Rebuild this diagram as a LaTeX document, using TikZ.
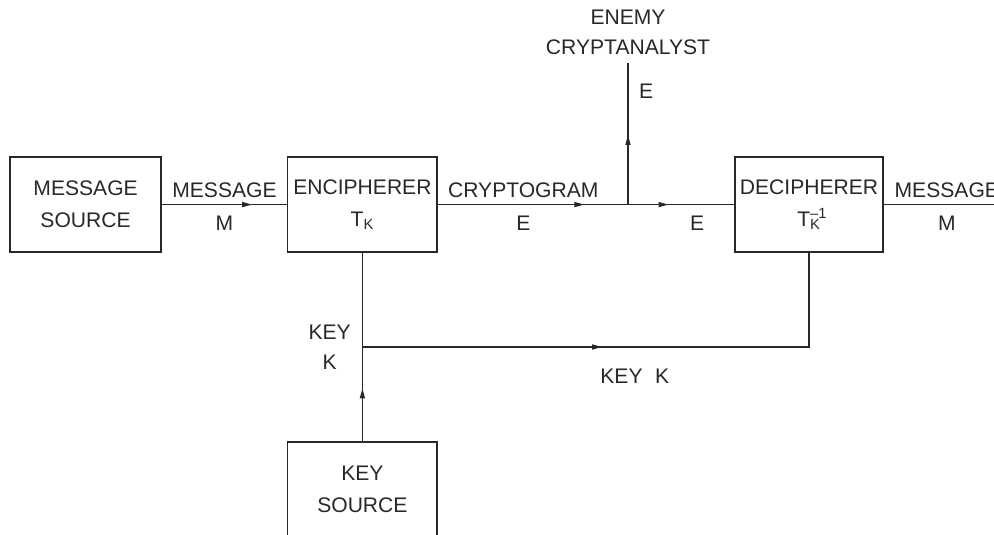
\documentclass[tikz,border=0pt]{standalone}
\usepackage{fontspec}
\setmainfont{Liberation Sans}
\usepackage{tikz}
\usetikzlibrary{arrows.meta,positioning,decorations.markings}
\usepackage{xcolor}
\definecolor{InkGray}{RGB}{40,40,40}

\begin{document}
\begin{tikzpicture}[
  InkGray, line width=0.9pt,
  blk/.style={draw=InkGray,minimum width=3.73cm,minimum height=2.375cm,
              align=center,font=\fontsize{15}{22.7}\selectfont,inner sep=0pt},
  lbl/.style={font=\fontsize{15}{21.5}\selectfont,inner sep=0pt,align=center},
  midarr/.style={postaction={decorate},decoration={markings,
                 mark=at position #1 with {\arrow{Triangle[length=7pt,width=3.6pt]}}}},
]
\useasboundingbox (0,0) rectangle (24.85,13.375);
\node[blk,minimum width=3.775cm] (msgsrc) at (2.14,8.26) {MESSAGE\\SOURCE};
\node[blk] (enc) at (9.06,8.26) {ENCIPHERER\\T\textsubscript{K}};
\node[blk,minimum width=3.7cm] (dec) at (20.225,8.26) {DECIPHERER\\T\rlap{\textsuperscript{--1}}\textsubscript{K}};
\node[blk] (keysrc) at (9.06,1.1375) {KEY\\SOURCE};
\node[lbl,inner sep=5pt] (enemy) at (15.7,12.56) {ENEMY\\CRYPTANALYST};
\coordinate (br) at (15.7,8.26);
\coordinate (out) at (25.25,8.26);
\coordinate (kj) at (9.06,4.7);
\coordinate (kc) at (20.225,4.7);

\draw[midarr=0.72] (msgsrc) -- node[lbl,above=4.6pt]{MESSAGE} node[lbl,below=7.4pt]{M} (enc);
\draw[midarr=0.77] (enc) -- node[lbl,above=4.6pt,pos=0.45]{CRYPTOGRAM}
                            node[lbl,below=7.4pt,pos=0.45]{E} (br);
\draw[midarr=0.38] (br) -- node[lbl,below=7.4pt,pos=0.65]{E} (dec);
\draw[midarr=0.49] (br) -- node[lbl,right=7.5pt,pos=0.8]{E} (enemy);
\draw (dec) -- node[lbl,above=4.6pt]{MESSAGE} node[lbl,below=7.4pt]{M} (out);
\draw (enc) -- (kj) node[lbl,left=7.8pt]{KEY\\K};
\draw[midarr=0.56] (keysrc) -- (kj);
\draw[midarr=0.443] (kj) -- node[lbl,below=15pt,pos=0.61]{KEY\hspace{9pt}K} (kc) -- (dec);
\end{tikzpicture}
\end{document}
